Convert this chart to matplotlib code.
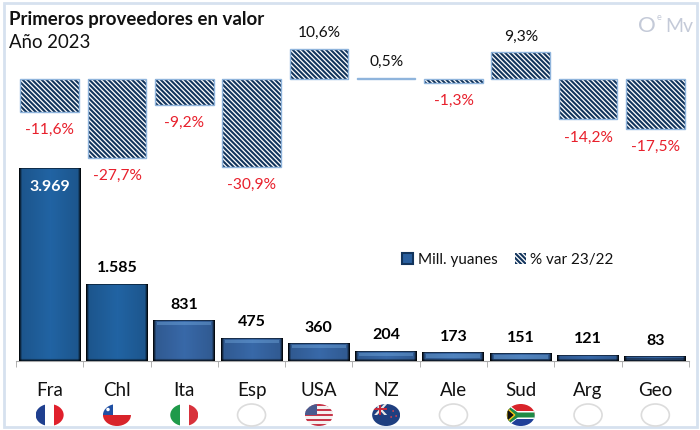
#!/usr/bin/env python3
import matplotlib
matplotlib.use("Agg")
import matplotlib.pyplot as plt
from matplotlib.patches import Ellipse, Patch, Rectangle, Polygon
import numpy as np

plt.rcParams['font.family'] = ['Lato', 'DejaVu Sans']
plt.rcParams['hatch.linewidth'] = 1.5

categories = ["Fra", "Chl", "Ita", "Esp", "USA", "NZ", "Ale", "Sud", "Arg", "Geo"]
valor = [3969, 1585, 831, 475, 360, 204, 173, 151, 121, 83]
valor_labels = ["3.969", "1.585", "831", "475", "360", "204", "173", "151", "121", "83"]
variacion = [-11.6, -27.7, -9.2, -30.9, 10.6, 0.5, -1.3, 9.3, -14.2, -17.5]
variacion_labels = ["-11,6%", "-27,7%", "-9,2%", "-30,9%", "10,6%", "0,5%", "-1,3%", "9,3%", "-14,2%", "-17,5%"]

W, H = 700, 430
NAVY = "#12345c"
BORDER = "#8fb4dc"
RED = "#e8202c"
PX_PER_UNIT = 0.0484


def px_axes(fig, left, top, right, bottom):
    # axes placed with reference pixel coordinates
    return fig.add_axes([left / W, (H - bottom) / H, (right - left) / W, (bottom - top) / H])


def bevel_image(v):
    # rough imitation of the excel bevel, one image row per pixel of bar height
    h, w = max(int(round(v * PX_PER_UNIT)), 3), 62
    yy, xx = np.mgrid[0:h, 0:w]
    if v > 1000:
        base = np.array([0.13, 0.39, 0.64])
    else:
        base = np.array([0.22, 0.41, 0.66])
    img = np.ones((h, w, 3)) * base
    img *= (0.85 + 0.15 * (1 - np.abs(xx - w / 2) / (w / 2)))[..., None]
    img *= np.clip(0.12 + np.minimum(xx, w - 1 - xx) / 3.0, 0.12, 1)[..., None]
    img *= np.clip(0.3 + (h - 1 - yy) / 3.0, 0.3, 1)[..., None]
    if v <= 1000 and h > 6:
        band = (yy >= 2) & (yy < 5) & (xx > 3) & (xx < w - 4)
        img[band] = img[band] * 0.65 + 0.35 * np.array([0.5, 0.72, 0.92])
    img[:1] *= 0.5
    return np.clip(img, 0, 1)


fig = plt.figure(figsize=(W / 100, H / 100), dpi=100, facecolor="white")

# background frame, title and logo live in a pixel-coordinate layer
bg = fig.add_axes([0, 0, 1, 1], zorder=0)
bg.set_xlim(0, W)
bg.set_ylim(H, 0)
bg.axis("off")
bg.add_patch(Rectangle((4, 3), 693, 424, fc="white", ec="#d6e1ef", lw=2))
bg.text(9, 20, "Primeros proveedores en valor", fontsize=13.4, fontweight="bold", va="center", color="#111111")
bg.text(9, 43, "Año 2023", fontsize=13.4, va="center", color="#111111")
bg.text(638, 26, "O", fontsize=16, color="#c4cad8", va="center")
bg.text(657, 17, "e", fontsize=6.5, color="#c4cad8", va="center")
bg.text(665, 27, "Mv", fontsize=14, color="#c4cad8", va="center")

# value bars
ax = px_axes(fig, 16, 150, 689, 361)
ax.patch.set_alpha(0)
x = np.arange(len(categories))
bars = ax.bar(x, valor, width=0.92, color="#2a5f9e")
for b, v in zip(bars, valor):
    ax.imshow(bevel_image(v), extent=[b.get_x(), b.get_x() + b.get_width(), 0, v],
              aspect="auto", zorder=3, interpolation="nearest")
ax.set_xlim(-0.5, len(categories) - 0.5)
ax.set_ylim(0, 211 / PX_PER_UNIT)

for i, (v, lab) in enumerate(zip(valor, valor_labels)):
    if i == 0:
        ax.annotate(lab, (i, v), xytext=(0, -18 * 0.72), textcoords="offset points", ha="center", va="center",
                    color="white", fontsize=11.5, fontweight="bold", zorder=5)
    else:
        ax.annotate(lab, (i, v), xytext=(0, 16 * 0.72), textcoords="offset points", ha="center", va="center",
                    color="black", fontsize=11.5, fontweight="bold", zorder=5)

for s in ["top", "left", "right"]:
    ax.spines[s].set_visible(False)
ax.spines["bottom"].set_color("#a6a6a6")
ax.set_yticks([])
ax.set_xticks(x)
ax.set_xticklabels(categories, fontsize=13.5, color="#111111")
ax.tick_params(axis="x", which="major", length=0, pad=15)
ax.set_xticks(np.arange(len(categories) + 1) - 0.5, minor=True)
ax.tick_params(axis="x", which="minor", length=4, color="#a6a6a6")

# variation bars
ax2 = px_axes(fig, 16, 30, 689, 200)
ax2.patch.set_alpha(0)
ax2.axis("off")
ax2.set_xlim(-0.5, len(categories) - 0.5)
ax2.set_ylim(-(200 - 79) / 2.85, (79 - 30) / 2.85)
ax2.bar(x, variacion, width=0.87, color="white", edgecolor=NAVY, hatch="\\" * 7, lw=0)
ax2.bar(x, variacion, width=0.87, fill=False, edgecolor=BORDER, lw=1)
for i, (v, lab) in enumerate(zip(variacion, variacion_labels)):
    if v < 0:
        ax2.annotate(lab, (i, v), xytext=(0, -18 * 0.72), textcoords="offset points", ha="center", va="center",
                     color=RED, fontsize=11.2)
    else:
        ax2.annotate(lab, (i, v), xytext=(0, 16 * 0.72), textcoords="offset points", ha="center", va="center",
                     color="#111111", fontsize=11.2)

# legend
handles = [Patch(fc="#2a5f9e", ec="#12345c", lw=1.5),
           Patch(fc="white", ec=NAVY, hatch="\\" * 7, lw=0)]
leg = fig.legend(handles, ["Mill. yuanes", "% var 23/22"], ncols=2, frameon=False, fontsize=11,
                 loc="center", bbox_to_anchor=(508 / W, (H - 260) / H), handlelength=0.7, handleheight=0.7,
                 handletextpad=0.3, columnspacing=1.15, labelcolor="#111111")


# flags
fl = fig.add_axes([0, 0, 1, 1], zorder=5)
fl.set_xlim(0, W)
fl.set_ylim(H, 0)
fl.axis("off")


def flag(i, draw=None):
    cx = 16 + 67.3 * (i + 0.5)
    cy = 415
    w, h = 28, 22
    el = Ellipse((cx, cy), w, h, fc="white", ec="#dcdcdc", lw=1.2)
    fl.add_patch(el)
    if draw is None:
        return
    clip = Ellipse((cx, cy), w, h, transform=fl.transData)
    for p in draw(cx, cy, w, h):
        fl.add_patch(p)
        p.set_clip_path(clip)
    el.set_edgecolor("none")


def vertical(c1, c2, c3):
    def draw(cx, cy, w, h):
        l = cx - w / 2
        return [Rectangle((l + j * w / 3, cy - h / 2), w / 3, h, fc=c, lw=0) for j, c in enumerate([c1, c2, c3])]
    return draw


def chile(cx, cy, w, h):
    l, t = cx - w / 2, cy - h / 2
    return [Rectangle((l, t), w, h / 2, fc="white", lw=0),
            Rectangle((l, cy), w, h / 2, fc="#d8232a", lw=0),
            Rectangle((l, t), w * 0.36, h / 2, fc="#1f4fa3", lw=0),
            Ellipse((l + w * 0.18, t + h * 0.25), 3.5, 3.5, fc="white", lw=0)]


def usa(cx, cy, w, h):
    l, t = cx - w / 2, cy - h / 2
    out = []
    for j in range(9):
        c = "#c8374a" if j % 2 == 0 else "#f4f0f0"
        out.append(Rectangle((l, t + j * h / 9), w, h / 9 + 0.2, fc=c, lw=0))
    out.append(Rectangle((l, t), w * 0.45, h * 0.5, fc="#4a5a8e", lw=0))
    return out


def nz(cx, cy, w, h):
    l, t = cx - w / 2, cy - h / 2
    return [Rectangle((l, t), w, h, fc="#1f3f80", lw=0),
            Polygon([(l + 2, t), (l + 5, t), (l + 15, cy), (l + 12, cy)], fc="#e8e8e8", lw=0),
            Polygon([(l + 15, t), (l + 12, t), (l + 2, cy), (l + 5, cy)], fc="#e8e8e8", lw=0),
            Rectangle((l + 1, t + 4), 14, 2.2, fc="#c8283a", lw=0),
            Rectangle((l + 7, t), 2.2, cy - t, fc="#c8283a", lw=0),
            Ellipse((l + 21, t + 7), 1.8, 1.8, fc="#d84050", lw=0),
            Ellipse((l + 19, t + 13), 1.8, 1.8, fc="#d84050", lw=0),
            Ellipse((l + 24, t + 12), 1.8, 1.8, fc="#d84050", lw=0)]


def sudafrica(cx, cy, w, h):
    l, t = cx - w / 2, cy - h / 2
    return [Rectangle((l, t), w, h / 2, fc="#d8232a", lw=0),
            Rectangle((l, cy), w, h / 2, fc="#1f3f98", lw=0),
            Polygon([(l, t - 1), (l + 10, cy - 4), (l + w, cy - 4), (l + w, cy + 4), (l + 10, cy + 4), (l, t + h + 1)],
                    fc="white", lw=0),
            Polygon([(l, t + 1), (l + 11, cy - 2.5), (l + w, cy - 2.5), (l + w, cy + 2.5), (l + 11, cy + 2.5), (l, t + h - 1)],
                    fc="#1f8a45", lw=0),
            Polygon([(l, t + 4), (l + 8, cy), (l, t + h - 4)], fc="#111111", ec="#f5c518", lw=1)]


flags = {0: vertical("#1f3f8f", "white", "#e0202c"), 1: chile, 2: vertical("#1f9a4a", "white", "#d8323c"),
         4: usa, 5: nz, 7: sudafrica}
for i in range(len(categories)):
    flag(i, flags.get(i))

fig.savefig("out.png", dpi=100)
